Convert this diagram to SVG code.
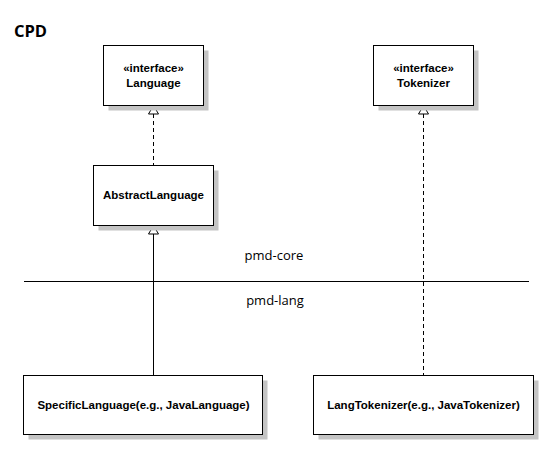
<svg xmlns="http://www.w3.org/2000/svg" width="560" height="462" viewBox="0 0 560 462">
<defs>
<style>
.box{fill:#fff;stroke:#000;stroke-width:1}
.shadow{fill:#c4c4c4}
.nt{font-family:"Liberation Sans",Arial,sans-serif;font-weight:bold;font-size:11.5px;fill:#000;text-anchor:middle}
.lbl{font-family:"Open Sans","Noto Sans",sans-serif;font-size:13px;fill:#000;text-anchor:middle}
.ttl{font-family:"Open Sans","Noto Sans",sans-serif;font-weight:bold;font-size:16.5px;fill:#000}
.solid{stroke:#000;stroke-width:1;fill:none}
.dash{stroke:#000;stroke-width:1;fill:none;stroke-dasharray:4,3}
.head{fill:#fff;stroke:#000;stroke-width:1}
</style>
</defs>
<rect width="560" height="462" fill="#fff"/>
<text class="ttl" x="14" y="37">CPD</text>
<line class="solid" x1="24" y1="281.5" x2="529" y2="281.5"/>
<text class="lbl" x="274" y="260">pmd-core</text>
<text class="lbl" x="275" y="305">pmd-lang</text>
<g id="connectors">
<line class="dash" x1="153.5" y1="114" x2="153.5" y2="165"/>
<polygon class="head" points="153.5,105.5 148.5,114 158.5,114"/>
<line class="dash" x1="423.5" y1="114" x2="423.5" y2="375"/>
<polygon class="head" points="423.5,105.5 418.5,114 428.5,114"/>
<line class="solid" x1="153.5" y1="234" x2="153.5" y2="375"/>
<polygon class="head" points="153.5,225.5 148.5,234 158.5,234"/>
</g>
<g id="Language">
<rect class="shadow" x="108.5" y="50.5" width="100" height="60"/>
<rect class="box" x="103.5" y="45.5" width="100" height="60"/>
<text class="nt" x="153.5" y="72">«interface»</text>
<text class="nt" x="153.5" y="87">Language</text>
</g>
<g id="Tokenizer">
<rect class="shadow" x="378.5" y="50.5" width="100" height="60"/>
<rect class="box" x="373.5" y="45.5" width="100" height="60"/>
<text class="nt" x="423.5" y="72">«interface»</text>
<text class="nt" x="423.5" y="87">Tokenizer</text>
</g>
<g id="AbstractLanguage">
<rect class="shadow" x="98.5" y="170.5" width="120" height="60"/>
<rect class="box" x="93.5" y="165.5" width="120" height="60"/>
<text class="nt" x="153.5" y="199">AbstractLanguage</text>
</g>
<g id="SpecificLanguage">
<rect class="shadow" x="28.5" y="380.5" width="239" height="59"/>
<rect class="box" x="23.5" y="375.5" width="239" height="59"/>
<text class="nt" x="143.5" y="409">SpecificLanguage(e.g., JavaLanguage)</text>
</g>
<g id="LangTokenizer">
<rect class="shadow" x="318.5" y="380.5" width="220" height="59"/>
<rect class="box" x="313.5" y="375.5" width="220" height="59"/>
<text class="nt" x="423.5" y="409">LangTokenizer(e.g., JavaTokenizer)</text>
</g>
</svg>
